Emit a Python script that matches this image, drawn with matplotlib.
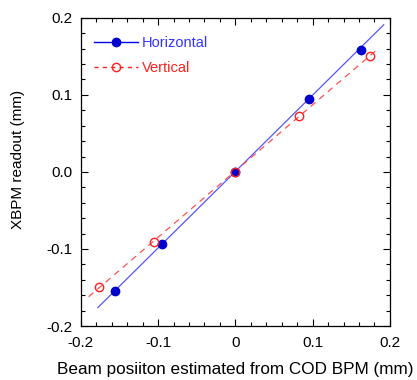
import matplotlib
matplotlib.use("Agg")
import matplotlib.pyplot as plt
from matplotlib.lines import Line2D
from matplotlib.ticker import MultipleLocator, FormatStrFormatter

plt.rcParams["font.family"] = ["Liberation Sans", "DejaVu Sans"]

# измерения: положение по COD BPM -> показание XBPM
h_x = [-0.156, -0.095, 0.0, 0.095, 0.162]
h_y = [-0.154, -0.0935, 0.0, 0.095, 0.158]
v_x = [-0.177, -0.106, 0.0, 0.082, 0.174]
v_y = [-0.149, -0.0905, 0.0, 0.073, 0.151]

# линии аппроксимации (концы)
h_fit_x = [-0.178, 0.192]
h_fit_y = [-0.176, 0.191]
v_fit_x = [-0.190, 0.186]
v_fit_y = [-0.162, 0.161]

BLUE = "#0000ee"
RED = "#ff2020"

fig = plt.figure(figsize=(4.17, 3.80), dpi=100)
ax = fig.add_axes([0.194, 0.142, 0.741, 0.811])

ax.plot(h_fit_x, h_fit_y, color="#5555ff", lw=0.9)
ax.plot(v_fit_x, v_fit_y, color="#ff5050", lw=0.9, ls=(0, (5, 4)))
ax.plot(h_x, h_y, ls="none", marker="o", ms=6, color="#0000cc", zorder=3)
ax.plot(v_x, v_y, ls="none", marker="o", ms=6, mfc="none", mec=RED, mew=1.0, zorder=3)

ax.set_xlim(-0.2, 0.2)
ax.set_ylim(-0.2, 0.2)
ax.xaxis.set_major_locator(MultipleLocator(0.1))
ax.xaxis.set_minor_locator(MultipleLocator(0.02))
ax.yaxis.set_major_locator(MultipleLocator(0.1))
ax.yaxis.set_minor_locator(MultipleLocator(0.02))
ax.xaxis.set_major_formatter(plt.FuncFormatter(lambda v, p: "0" if abs(v) < 1e-9 else f"{v:.1f}"))
ax.yaxis.set_major_formatter(FormatStrFormatter("%.1f"))
ax.tick_params(which="both", direction="in", top=True, right=True, labelsize=11)
ax.tick_params(axis="x", pad=7)
ax.tick_params(axis="y", pad=6)
ax.tick_params(which="major", length=5, width=0.8)
ax.tick_params(which="minor", length=3, width=0.8)
for s in ax.spines.values():
    s.set_linewidth(0.9)

ax.set_xlabel("Beam posiiton estimated from COD BPM (mm)", fontsize=12.3, labelpad=9)
ax.set_ylabel("XBPM readout (mm)", fontsize=11)
ax.yaxis.set_label_coords(-0.18, 0.54)

handles = [
    Line2D([], [], color=BLUE, lw=1, marker="o", ms=6, mfc="#0000cc", mec="#0000cc"),
    Line2D([], [], color=RED, lw=1, ls=(0, (3, 3)), marker="o", ms=6, mfc="none", mec=RED),
]
leg = ax.legend(handles, ["Horizontal", "Vertical"], loc="upper left", frameon=False,
                fontsize=10.5, handlelength=3.0, handletextpad=0.3, labelspacing=0.8,
                bbox_to_anchor=(0.0, 0.985))
leg.get_texts()[0].set_color("#3333ff")
leg.get_texts()[1].set_color(RED)

fig.savefig("out.png", dpi=100)
